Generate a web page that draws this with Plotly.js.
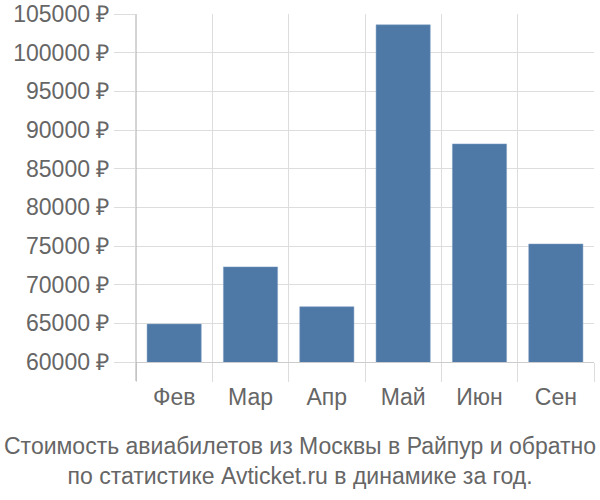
<!DOCTYPE html>
<html>
<head>
<meta charset="utf-8">
<script src="https://cdn.plot.ly/plotly-3.0.1.min.js"></script>
<style>
  html, body { margin: 0; padding: 0; background: #fff; }
  #chart { width: 600px; height: 500px; }
</style>
</head>
<body>
<div id="chart"></div>
<script>
// months and average ticket price, rub
const months = ["Фев", "Мар", "Апр", "Май", "Июн", "Сен"];
const prices = [64900, 72300, 67150, 103600, 88200, 75260];
const yTicks = [60000, 65000, 70000, 75000, 80000, 85000, 90000, 95000, 100000, 105000];
const titleLines = [
    "Стоимость авиабилетов из Москвы в Райпур и обратно",
    "по статистике Avticket.ru в динамике за год."
];

const gridColor = "#dddddd";
const textColor = "#666666";

let trace = {
    type: "bar",
    x: months,
    y: prices,
    marker: { color: "#4e79a7", line: { color: "#7f9fc4", width: 0.5 } },
    hoverinfo: "x+y",
};

let layout = {
    width: 600,
    height: 500,
    margin: { l: 136, r: 6, t: 14, b: 138, pad: 0 },
    paper_bgcolor: "#fff",
    plot_bgcolor: "#fff",
    font: { family: "Liberation Sans, Arial, sans-serif", size: 23, color: textColor },
    bargap: 0.29,
    showlegend: false,
    xaxis: {
        type: "category",
        tickson: "boundaries",
        ticks: "outside",
        ticklen: 19,
        tickcolor: gridColor,
        ticklabelstandoff: 14,
        showgrid: true,
        gridcolor: gridColor,
        showline: true,
        linecolor: "#cccccc",
        fixedrange: true,
    },
    yaxis: {
        range: [60000, 105000],
        tickvals: yTicks,
        ticktext: yTicks.map((v) => v + " ₽"),
        ticks: "outside",
        ticklen: 21,
        tickcolor: gridColor,
        gridcolor: gridColor,
        showline: false,
        zeroline: false,
        fixedrange: true,
    },
    shapes: [
        {
            type: "line", xref: "paper", yref: "paper",
            x0: 0, x1: 0, y0: -19 / 348, y1: 1,
            line: { color: "#aaaaaa", width: 1 },
        },
    ],
    annotations: [
        {
            xref: "paper", yref: "paper",
            x: 0.5 - 136 / 458 / 2 + 6 / 458 / 2, y: -99 / 348,
            xanchor: "center", yanchor: "middle",
            showarrow: false,
            text: titleLines.join("<br>"),
            font: { size: 23, color: textColor },
        },
    ],
};

Plotly.newPlot("chart", [trace], layout, { displayModeBar: false, staticPlot: true });
</script>
</body>
</html>
